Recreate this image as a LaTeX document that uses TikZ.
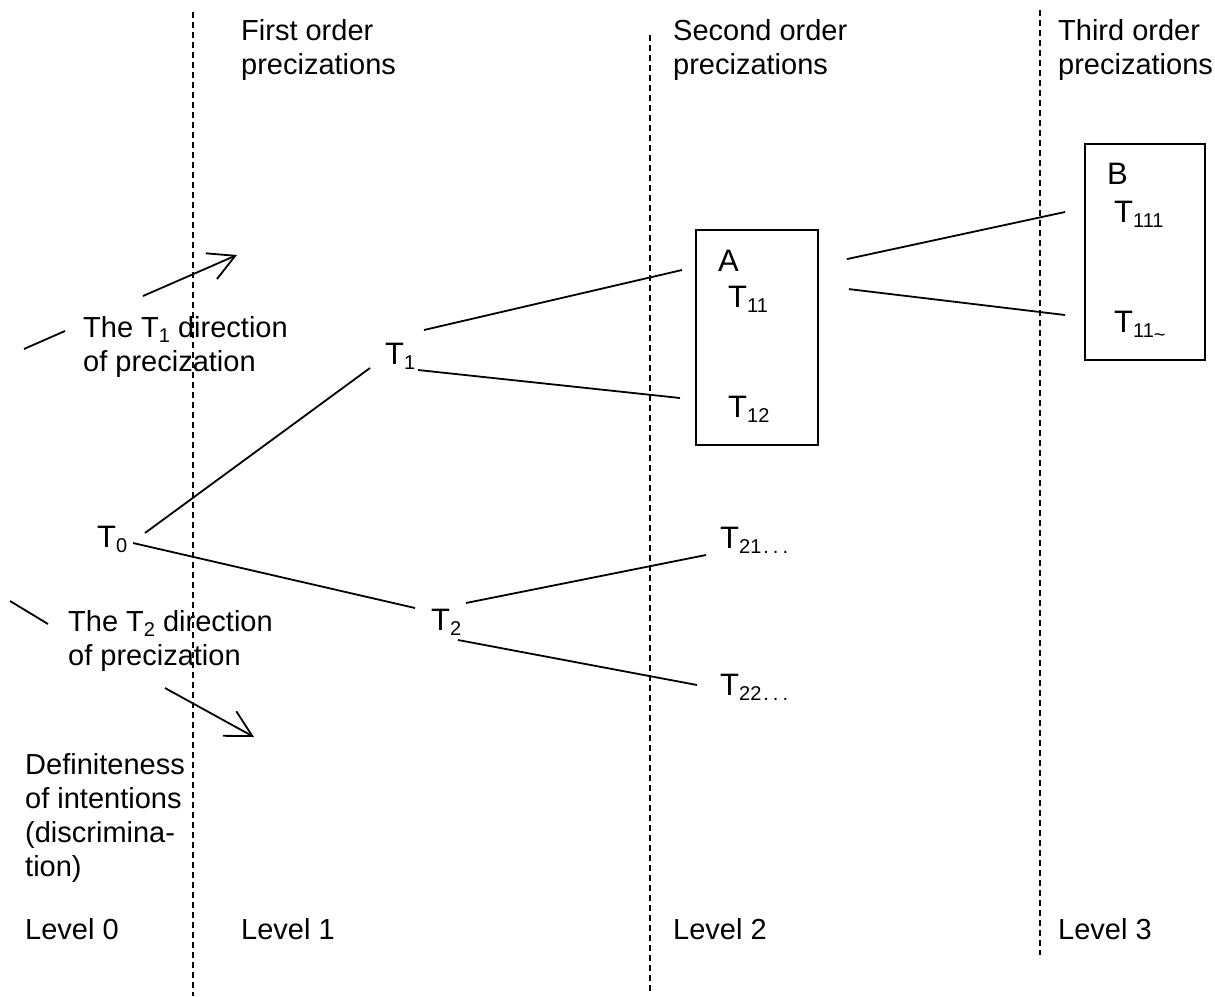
\documentclass[tikz,border=0pt]{standalone}
\usepackage{fontspec}
\setmainfont{Liberation Sans}
\usetikzlibrary{arrows.meta}
\newcommand\lo[1]{\raisebox{-5.5pt}{\fontsize{20}{20}\selectfont #1}}
\newcommand\mydots{\hspace{2pt}.\hspace{4pt}.\hspace{4pt}.}
\begin{document}
\begin{tikzpicture}[x=1pt,y=-1pt,
  txt/.style={inner sep=0pt, anchor=north west, align=left, font=\fontsize{29}{34}\selectfont},
  lbl/.style={inner sep=0pt, anchor=base west, font=\fontsize{31}{36}\selectfont},
  ln/.style={line width=1.8pt},
  sep/.style={line width=1.5pt, dash pattern=on 6pt off 4pt},
  box/.style={draw, line width=1.8pt, inner sep=0pt},
  arr/.style={line width=1.8pt, -{Straight Barb[length=26pt,width=28pt,line width=1.8pt]}}]
\useasboundingbox (0,0) rectangle (1215,996);

% separators
\coordinate (s1t) at (193,12);   \coordinate (s1b) at (193,996);
\coordinate (s2t) at (650,35);   \coordinate (s2b) at (650,992);
\coordinate (s3t) at (1040,10);  \coordinate (s3b) at (1040,955);
\draw[sep] (s1t) -- (s1b);
\draw[sep] (s2t) -- (s2b);
\draw[sep] (s3t) -- (s3b);

% headings
\node[txt] (h1) at (241,19) {First order\\precizations};
\node[txt] (h2) at (673,19) {Second order\\precizations};
\node[txt] (h3) at (1058,19) {Third order\\precizations};

% levels
\node[txt] (l0) at (25,918) {Level 0};
\node[txt] (l1) at (241,918) {Level 1};
\node[txt] (l2) at (673,918) {Level 2};
\node[txt] (l3) at (1058,918) {Level 3};

% side texts
\node[txt] (dir1) at (83,316) {The T\lo{1} direction\\of precization};
\node[txt] (dir2) at (68,610) {The T\lo{2} direction\\of precization};
\node[txt] (def) at (25,753) {Definiteness\\of intentions\\(discrimina-\\tion)};

% boxes
\node[box, minimum width=122pt, minimum height=215pt] (boxA) at (757,337.5) {};
\node[box, minimum width=120pt, minimum height=216pt] (boxB) at (1145,252) {};

% tree nodes
\node[lbl] (T0) at (97,547) {T\lo{0}};
\node[lbl] (T1) at (385,364) {T\lo{1}};
\node[lbl] (T2) at (431,630) {T\lo{2}};
\node[lbl] (A) at (718,271) {A};
\node[lbl] (T11) at (728,307) {T\lo{11}};
\node[lbl] (T12) at (728,417) {T\lo{12}};
\node[lbl] (B) at (1107,184) {B};
\node[lbl] (T111) at (1114,222) {T\lo{111}};
\node[lbl] (T11x) at (1114,332) {T\lo{11\raisebox{-4pt}{\textasciitilde}}};
\node[lbl] (T21) at (720,548) {T\lo{21\mydots}};
\node[lbl] (T22) at (720,695) {T\lo{22\mydots}};

% connectors
\draw[ln] ([shift={(48,-14)}]T0.base west) -- ([shift={(-15,4)}]T1.base west);
\draw[ln] ([shift={(36,-4)}]T0.base west) -- ([shift={(-16,-22)}]T2.base west);
\draw[ln] ([shift={(39,-34)}]T1.base west) -- ([shift={(-46,-37)}]T11.base west);
\draw[ln] ([shift={(33,6)}]T1.base west) -- ([shift={(-48,-19)}]T12.base west);
\draw[ln] ([shift={(35,-27)}]T2.base west) -- ([shift={(-14,7)}]T21.base west);
\draw[ln] ([shift={(27,10)}]T2.base west) -- ([shift={(-23,-10)}]T22.base west);
\draw[ln] ([shift={(28,30)}]boxA.north east) -- ([shift={(-49,-10)}]T111.base west);
\draw[ln] ([shift={(30,60)}]boxA.north east) -- ([shift={(-49,-17)}]T11x.base west);

% direction arrows
\coordinate (d1a) at (24,349); \coordinate (d1b) at (65,331);
\coordinate (d1c) at (143,296); \coordinate (d1d) at (237,255);
\draw[ln] (d1a) -- (d1b);
\draw[arr] (d1c) -- (d1d);
\coordinate (d2a) at (10,601); \coordinate (d2b) at (48,624);
\coordinate (d2c) at (165,688); \coordinate (d2d) at (254,737);
\draw[ln] (d2a) -- (d2b);
\draw[arr] (d2c) -- (d2d);
\end{tikzpicture}
\end{document}
